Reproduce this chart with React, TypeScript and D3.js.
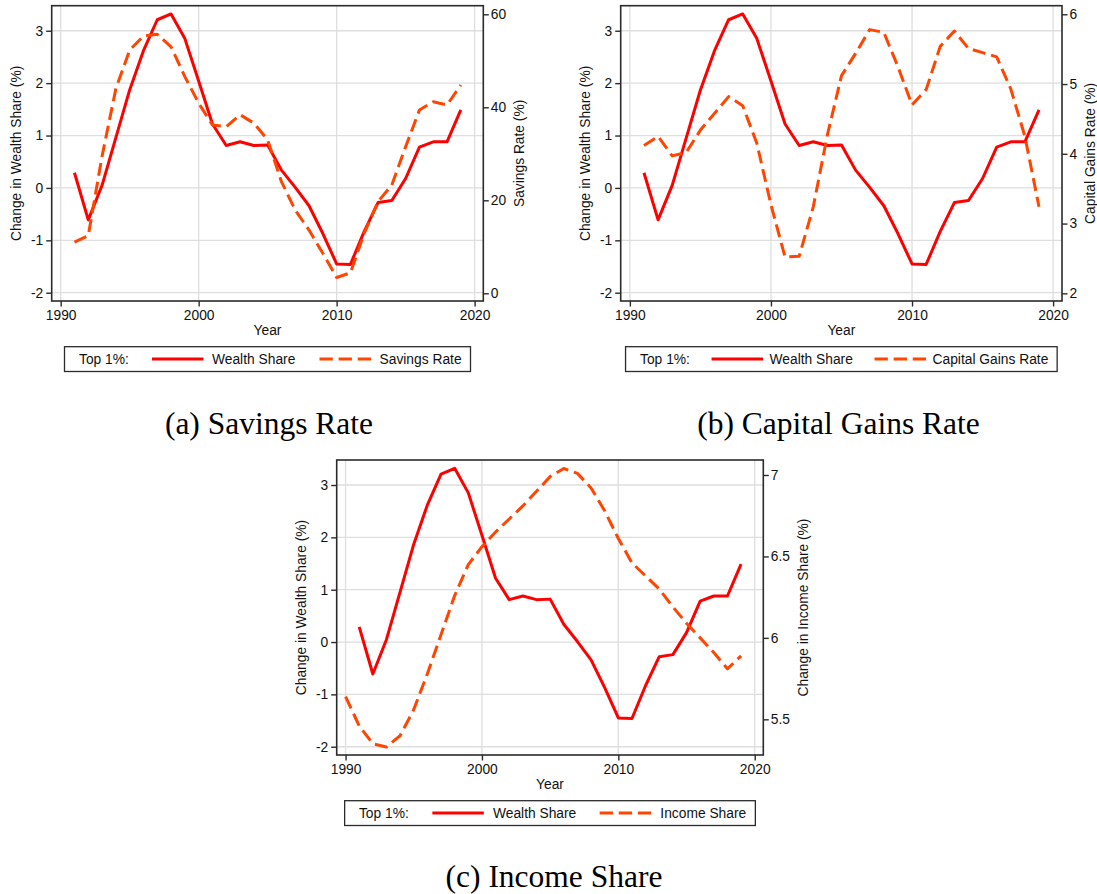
import React, { useRef, useEffect } from 'react';
import * as d3 from 'd3';

// Top 1%: change in wealth share vs. three drivers, 1990-2019

const WEALTH_YEARS = [
  1991, 1992, 1993, 1994, 1995, 1996, 1997, 1998, 1999, 2000,
  2001, 2002, 2003, 2004, 2005, 2006, 2007, 2008, 2009, 2010,
  2011, 2012, 2013, 2014, 2015, 2016, 2017, 2018, 2019,
];
const WEALTH_SHARE = [
  0.29, -0.61, 0.05, 0.96, 1.87, 2.62, 3.21, 3.32, 2.85, 2.04,
  1.22, 0.81, 0.88, 0.81, 0.82, 0.34, 0.01, -0.34, -0.87, -1.45,
  -1.46, -0.83, -0.28, -0.24, 0.18, 0.78, 0.88, 0.88, 1.49,
];
const SAVINGS_RATE = [
  11.0, 12.4, 29.5, 44.0, 52.3, 55.3, 55.7, 53.0, 46.6, 40.9,
  36.2, 35.8, 38.4, 36.6, 33.0, 24.0, 17.9, 13.6, 8.6, 3.4,
  4.4, 12.9, 19.7, 23.3, 31.5, 39.4, 41.2, 40.5, 44.8,
];
const CAPITAL_GAINS_RATE = [
  4.12, 4.25, 3.97, 4.02, 4.34, 4.58, 4.82, 4.69, 4.15, 3.27,
  2.52, 2.53, 3.24, 4.27, 5.12, 5.44, 5.78, 5.74, 5.25, 4.70,
  4.92, 5.54, 5.76, 5.51, 5.45, 5.39, 4.93, 4.25, 3.24,
];
const INCOME_YEARS = [
  1990, 1991, 1992, 1993, 1994, 1995, 1996, 1997, 1998, 1999,
  2000, 2001, 2002, 2003, 2004, 2005, 2006, 2007, 2008, 2009,
  2010, 2011, 2012, 2013, 2014, 2015, 2016, 2017, 2018, 2019,
];
const INCOME_SHARE = [
  5.64, 5.46, 5.35, 5.33, 5.40, 5.56, 5.78, 6.02, 6.26, 6.45,
  6.56, 6.65, 6.73, 6.81, 6.90, 6.99, 7.04, 7.01, 6.92, 6.78,
  6.61, 6.46, 6.38, 6.30, 6.19, 6.09, 6.00, 5.91, 5.81, 5.89,
];

const X_TICKS = [1990, 2000, 2010, 2020];
const WEALTH_TICKS = [-2, -1, 0, 1, 2, 3];
const SAVINGS_TICKS = [0, 20, 40, 60];
const CAPITAL_GAINS_TICKS = [2, 3, 4, 5, 6];
const INCOME_TICKS = [5.5, 6, 6.5, 7];

const COLORS = {
  wealth: '#FF0000',
  other: '#FF4500',
  frame: '#2b2b2b',
  grid: '#dedede',
  text: '#111111',
};

const SANS = '"Liberation Sans", Arial, Helvetica, sans-serif';
const SERIF = '"Liberation Serif", "Times New Roman", serif';

interface Panel {
  frame: { x0: number; x1: number; y0: number; y1: number };
  rightDomain: [number, number];
  rightTicks: number[];
  rightTitle: string;
  rightTitleOffset: number;
  otherYears: number[];
  otherValues: number[];
  otherLabel: string;
  legendWidth: number;
  legendKeys: number[]; // offsets: text1, line1, text2, line2, text3
  caption: string;
  captionX: number;
  captionY: number;
}

const PANELS: Panel[] = [
  {
    frame: { x0: 51.7, x1: 483.3, y0: 5.7, y1: 301 },
    rightDomain: [-1.656, 61.85],
    rightTicks: SAVINGS_TICKS,
    rightTitle: 'Savings Rate (%)',
    rightTitleOffset: 35.7,
    otherYears: WEALTH_YEARS,
    otherValues: SAVINGS_RATE,
    otherLabel: 'Savings Rate',
    legendWidth: 406,
    legendKeys: [14.5, 87.5, 147.5, 255, 315],
    caption: '(a) Savings Rate',
    captionX: 269,
    captionY: 434,
  },
  {
    frame: { x0: 620.7, x1: 1062, y0: 5.7, y1: 301 },
    rightDomain: [1.89, 6.123],
    rightTicks: CAPITAL_GAINS_TICKS,
    rightTitle: 'Capital Gains Rate (%)',
    rightTitleOffset: 28.3,
    otherYears: WEALTH_YEARS,
    otherValues: CAPITAL_GAINS_RATE,
    otherLabel: 'Capital Gains Rate',
    legendWidth: 431.6,
    legendKeys: [14.5, 86, 144, 249, 307],
    caption: '(b) Capital Gains Rate',
    captionX: 838.5,
    captionY: 434,
  },
  {
    frame: { x0: 336.7, x1: 763.3, y0: 460, y1: 755 },
    rightDomain: [5.281, 7.092],
    rightTicks: INCOME_TICKS,
    rightTitle: 'Change in Income Share (%)',
    rightTitleOffset: 40,
    otherYears: INCOME_YEARS,
    otherValues: INCOME_SHARE,
    otherLabel: 'Income Share',
    legendWidth: 410.7,
    legendKeys: [14.3, 87.7, 148.3, 255, 315.7],
    caption: '(c) Income Share',
    captionX: 554,
    captionY: 887,
  },
];

const WIDTH = 1097;
const HEIGHT = 894;
const FONT_SIZE = 13.8;

export default function App() {
  const svgRef = useRef<SVGSVGElement>(null);

  useEffect(() => {
    const svg = d3.select(svgRef.current);
    svg.selectAll('*').remove();

    svg.append('rect')
      .attr('width', WIDTH)
      .attr('height', HEIGHT)
      .attr('fill', '#ffffff');

    PANELS.forEach(p => {
      const { x0, x1, y0, y1 } = p.frame;
      const g = svg.append('g');

      const x = d3.scaleLinear().domain([1989.35, 2020.63]).range([x0, x1]);
      const yLeft = d3.scaleLinear().domain([-2.158, 3.478]).range([y1, y0]);
      const yRight = d3.scaleLinear().domain(p.rightDomain).range([y1, y0]);

      // Gridlines
      g.selectAll('.hgrid')
        .data(WEALTH_TICKS)
        .enter()
        .append('line')
        .attr('x1', x0)
        .attr('x2', x1)
        .attr('y1', d => yLeft(d))
        .attr('y2', d => yLeft(d))
        .attr('stroke', COLORS.grid)
        .attr('stroke-width', 1.3);

      g.selectAll('.vgrid')
        .data(X_TICKS)
        .enter()
        .append('line')
        .attr('x1', d => x(d))
        .attr('x2', d => x(d))
        .attr('y1', y0)
        .attr('y2', y1)
        .attr('stroke', COLORS.grid)
        .attr('stroke-width', 1.3);

      // Series
      const wealthLine = d3.line<number>()
        .x((_, i) => x(WEALTH_YEARS[i]))
        .y(d => yLeft(d));

      const otherLine = d3.line<number>()
        .x((_, i) => x(p.otherYears[i]))
        .y(d => yRight(d));

      g.append('path')
        .attr('d', wealthLine(WEALTH_SHARE))
        .attr('fill', 'none')
        .attr('stroke', COLORS.wealth)
        .attr('stroke-width', 3)
        .attr('stroke-linejoin', 'round');

      g.append('path')
        .attr('d', otherLine(p.otherValues))
        .attr('fill', 'none')
        .attr('stroke', COLORS.other)
        .attr('stroke-width', 3)
        .attr('stroke-dasharray', '13 6')
        .attr('stroke-linejoin', 'round');

      // Frame
      g.append('rect')
        .attr('x', x0)
        .attr('y', y0)
        .attr('width', x1 - x0)
        .attr('height', y1 - y0)
        .attr('fill', 'none')
        .attr('stroke', COLORS.frame)
        .attr('stroke-width', 1.6);

      // Axes (plain hyphen for negatives, as in the original)
      const plain = (d: d3.NumberValue) => `${d}`;

      const xAxis = d3.axisBottom(x)
        .tickValues(X_TICKS)
        .tickFormat(plain)
        .tickSize(5.5)
        .tickPadding(4)
        .tickSizeOuter(0);

      const leftAxis = d3.axisLeft(yLeft)
        .tickValues(WEALTH_TICKS)
        .tickFormat(plain)
        .tickSize(5.5)
        .tickPadding(3)
        .tickSizeOuter(0);

      const rightAxis = d3.axisRight(yRight)
        .tickValues(p.rightTicks)
        .tickFormat(plain)
        .tickSize(5.5)
        .tickPadding(2)
        .tickSizeOuter(0);

      const styleAxis = (sel: d3.Selection<SVGGElement, unknown, null, undefined>) => {
        sel.select('.domain').remove();
        sel.selectAll('.tick line')
          .attr('stroke', COLORS.frame)
          .attr('stroke-width', 1.4);
        sel.selectAll('.tick text')
          .style('font-family', SANS)
          .style('font-size', `${FONT_SIZE}px`)
          .attr('fill', COLORS.text);
      };

      g.append('g')
        .attr('transform', `translate(0,${y1})`)
        .call(xAxis)
        .call(styleAxis);

      g.append('g')
        .attr('transform', `translate(${x0},0)`)
        .call(leftAxis)
        .call(styleAxis);

      g.append('g')
        .attr('transform', `translate(${x1},0)`)
        .call(rightAxis)
        .call(styleAxis);

      const midX = (x0 + x1) / 2;
      const midY = (y0 + y1) / 2;

      // Axis titles
      g.append('text')
        .attr('x', midX)
        .attr('y', y1 + 33.5)
        .attr('text-anchor', 'middle')
        .style('font-family', SANS)
        .style('font-size', `${FONT_SIZE}px`)
        .attr('fill', COLORS.text)
        .text('Year');

      g.append('text')
        .attr('transform', `translate(${x0 - 35.5},${midY}) rotate(-90)`)
        .attr('text-anchor', 'middle')
        .attr('dy', '0.35em')
        .style('font-family', SANS)
        .style('font-size', `${FONT_SIZE}px`)
        .attr('fill', COLORS.text)
        .text('Change in Wealth Share (%)');

      g.append('text')
        .attr('transform', `translate(${x1 + p.rightTitleOffset},${midY}) rotate(-90)`)
        .attr('text-anchor', 'middle')
        .attr('dy', '0.35em')
        .style('font-family', SANS)
        .style('font-size', `${FONT_SIZE}px`)
        .attr('fill', COLORS.text)
        .text(p.rightTitle);

      // Legend
      const lx = midX - p.legendWidth / 2;
      const ly = y1 + 45.7;
      const lh = 24.8;
      const legend = g.append('g').attr('transform', `translate(${lx},${ly})`);

      legend.append('rect')
        .attr('width', p.legendWidth)
        .attr('height', lh)
        .attr('fill', '#ffffff')
        .attr('stroke', COLORS.frame)
        .attr('stroke-width', 1.3);

      const [t1, l1, t2, l2, t3] = p.legendKeys;
      const lineY = lh / 2;
      const textY = lh / 2 + 5;

      const legendText = (tx: number, label: string) =>
        legend.append('text')
          .attr('x', tx)
          .attr('y', textY)
          .style('font-family', SANS)
          .style('font-size', `${FONT_SIZE}px`)
          .attr('fill', COLORS.text)
          .text(label);

      legendText(t1, 'Top 1%:');
      legend.append('line')
        .attr('x1', l1).attr('x2', l1 + 51.5)
        .attr('y1', lineY).attr('y2', lineY)
        .attr('stroke', COLORS.wealth)
        .attr('stroke-width', 3);
      legendText(t2, 'Wealth Share');
      legend.append('line')
        .attr('x1', l2).attr('x2', l2 + 51.5)
        .attr('y1', lineY).attr('y2', lineY)
        .attr('stroke', COLORS.other)
        .attr('stroke-width', 3)
        .attr('stroke-dasharray', '13.3 5.8');
      legendText(t3, p.otherLabel);

      // Caption
      svg.append('text')
        .attr('x', p.captionX)
        .attr('y', p.captionY)
        .attr('text-anchor', 'middle')
        .style('font-family', SERIF)
        .style('font-size', '31.5px')
        .attr('fill', '#000000')
        .text(p.caption);
    });
  }, []);

  return (
    <svg
      ref={svgRef}
      width={WIDTH}
      height={HEIGHT}
      viewBox={`0 0 ${WIDTH} ${HEIGHT}`}
      style={{ position: 'absolute', left: 0, top: 0, display: 'block' }}
    />
  );
}
